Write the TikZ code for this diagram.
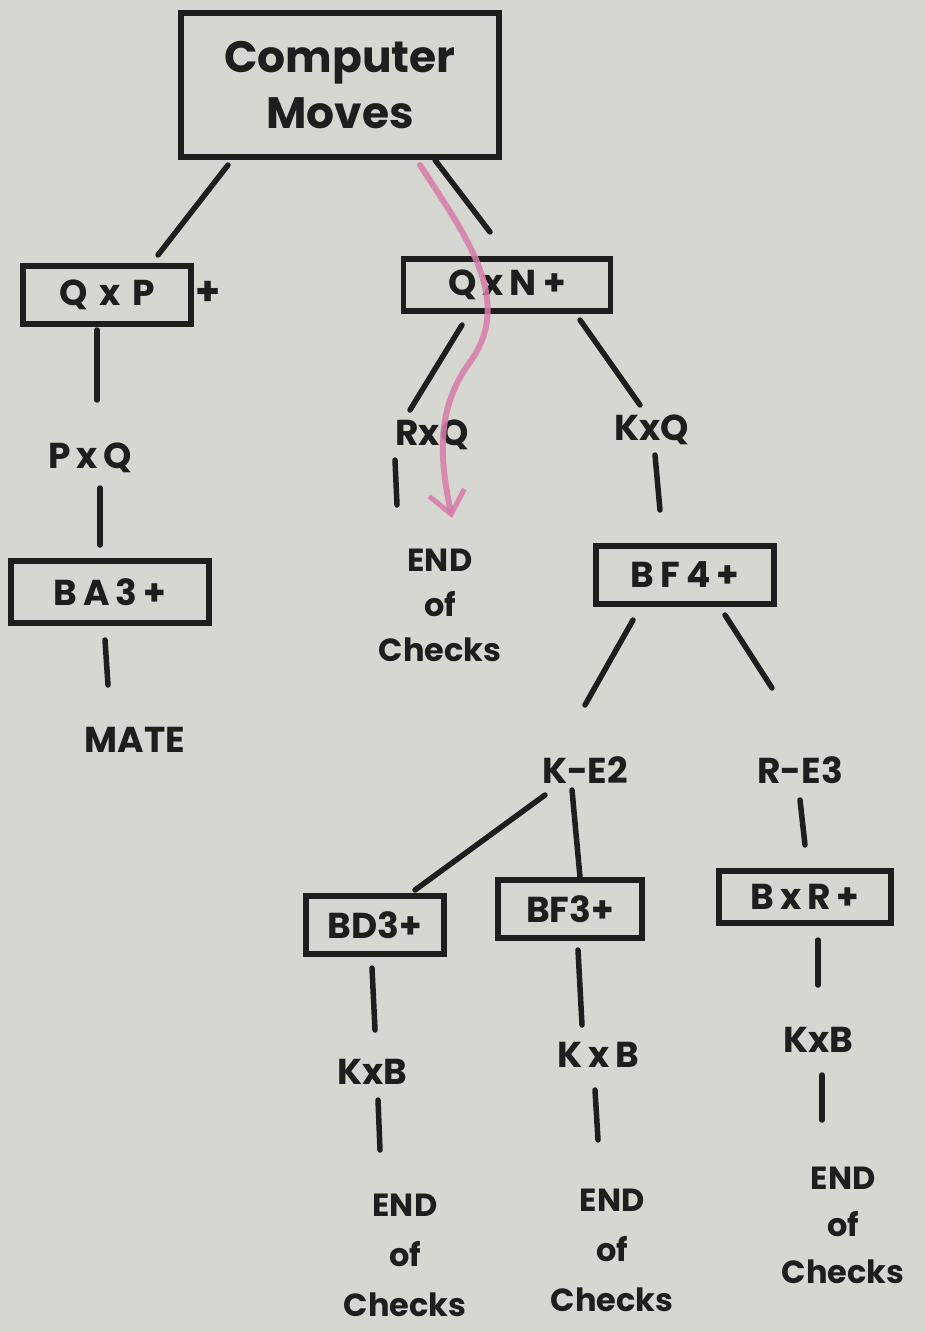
\documentclass[tikz,border=0pt]{standalone}
\usepackage{fontspec}
\setmainfont{Poppins}
\usetikzlibrary{calc,arrows.meta}
\definecolor{paper}{HTML}{D7D7D2}
\definecolor{ink}{HTML}{1E1E1E}
\definecolor{pinkpen}{HTML}{D77BA8}
\begin{document}
\begin{tikzpicture}[x=1pt,y=-1pt,
  lbl/.style={text=ink,font=\fontsize{36}{46}\selectfont\bfseries,align=center,inner sep=0pt},
  mbox/.style={lbl,draw=ink,line width=5.5pt,inner sep=0pt},
  endtxt/.style={lbl,font=\fontsize{32}{48}\selectfont\bfseries},
  link/.style={draw=ink,line width=5.5pt,line cap=round}]
\fill[paper] (0,0) rectangle (925,1332);
\useasboundingbox (0,0) rectangle (925,1332);
% nodes
\node[mbox,minimum width=318pt,minimum height=144pt,font=\fontsize{44}{56}\selectfont\bfseries] (comp) at (340,85) {Computer\\Moves};
\node[mbox,minimum width=168pt,minimum height=58pt] (qxp) at (107,295) {Q\,\,x\,\,P};
\node[lbl,font=\fontsize{40}{46}\selectfont\bfseries] (plus) at (208,293) {+};
\node[mbox,minimum width=207pt,minimum height=52pt] (qxn) at (507,285) {Q\,x\,N\,+};
\node[lbl] (pxq) at (90,458) {P\,x\,Q};
\node[mbox,minimum width=198pt,minimum height=62pt] (ba3) at (110,592) {B\,A\,3\,+};
\node[lbl] (mate) at (135,740) {MATE};
\node[lbl] (rxq) at (432,435) {RxQ};
\node[lbl] (kxq) at (652,430) {KxQ};
\node[endtxt,font=\fontsize{32}{45}\selectfont\bfseries] (end1) at (440,605) {END\\of\\Checks};
\node[mbox,minimum width=178pt,minimum height=58pt] (bf4) at (685,575) {B\,F\,4\,+};
\node[lbl] (ke2) at (585,770) {K-E2};
\node[lbl] (re3) at (800,770) {R-E3};
\node[mbox,minimum width=138pt,minimum height=58pt] (bd3) at (375,925) {BD3+};
\node[mbox,minimum width=144pt,minimum height=58pt] (bf3) at (570,909) {BF3+};
\node[mbox,minimum width=172pt,minimum height=52pt] (bxr) at (805,897) {B\,x\,R\,+};
\node[lbl] (kxb1) at (372,1072) {KxB};
\node[lbl] (kxb2) at (598,1055) {K\,x\,B};
\node[lbl] (kxb3) at (818,1040) {KxB};
\node[endtxt,font=\fontsize{32}{50}\selectfont\bfseries] (end2) at (405,1255) {END\\of\\Checks};
\node[endtxt,font=\fontsize{32}{50}\selectfont\bfseries] (end3) at (612,1250) {END\\of\\Checks};
\node[endtxt,font=\fontsize{32}{47}\selectfont\bfseries] (end4) at (843,1225) {END\\of\\Checks};
% connectors
\draw[link] ($(comp)+(-112,80)$) -- ($(qxp)+(51,-40)$);
\draw[link] ($(comp)+(95,75)$) -- ($(qxn)+(-17,-53)$);
\draw[link] ($(qxp)+(-10,35)$) -- ($(pxq)+(7,-58)$);
\draw[link] ($(pxq)+(10,30)$) -- ($(ba3)+(-10,-47)$);
\draw[link] ($(ba3)+(-5,48)$) -- ($(mate)+(-27,-55)$);
\draw[link] ($(qxn)+(-45,40)$) -- ($(rxq)+(-22,-25)$);
\draw[link] ($(qxn)+(73,35)$) -- ($(kxq)+(-12,-25)$);
\draw[link] ($(rxq)+(-37,25)$) -- ($(end1)+(-43,-100)$);
\draw[link] ($(kxq)+(3,25)$) -- ($(bf4)+(-25,-65)$);
\draw[link] ($(bf4)+(-52,45)$) -- ($(ke2)+(0,-65)$);
\draw[link] ($(bf4)+(40,40)$) -- ($(re3)+(-28,-82)$);
\draw[link] ($(ke2)+(-40,25)$) -- ($(bd3)+(40,-35)$);
\draw[link] ($(ke2)+(-13,20)$) -- ($(bf3)+(10,-32)$);
\draw[link] ($(re3)+(0,30)$) -- ($(bxr)+(0,-52)$);
\draw[link] ($(bd3)+(-3,43)$) -- ($(kxb1)+(3,-42)$);
\draw[link] ($(kxb1)+(6,28)$) -- ($(end2)+(-25,-105)$);
\draw[link] ($(bf3)+(8,41)$) -- ($(kxb2)+(-16,-30)$);
\draw[link] ($(kxb2)+(-3,35)$) -- ($(end3)+(-14,-110)$);
\draw[link] ($(bxr)+(13,43)$) -- ($(kxb3)+(0,-55)$);
\draw[link] ($(kxb3)+(4,35)$) -- ($(end4)+(-21,-105)$);
% pink path
\coordinate (pstart) at (420,165);
\coordinate (pmid) at (470,362);
\coordinate (pend) at (452,518);
\draw[pinkpen,line width=6pt,line cap=round,opacity=0.85,-{Straight Barb[length=22pt,width=36pt,line width=5pt]}]
  (pstart) .. controls (465,235) and (515,300) .. (pmid)
  .. controls (435,410) and (440,460) .. (pend);
\end{tikzpicture}
\end{document}
